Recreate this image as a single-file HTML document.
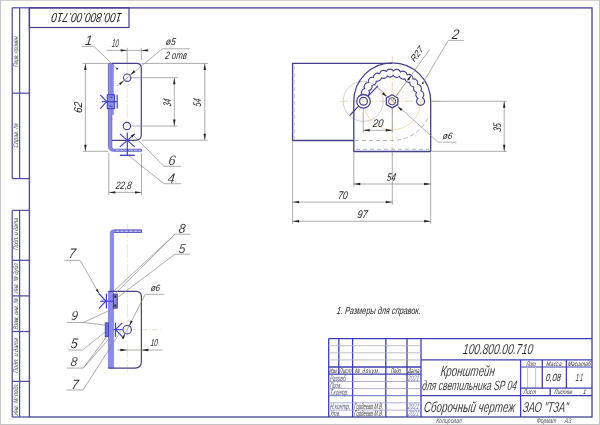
<!DOCTYPE html>
<html><head><meta charset="utf-8"><style>
html,body{margin:0;padding:0;background:#fff;overflow:hidden}
svg{display:block}
text{font-family:"Liberation Sans",sans-serif}
#t{opacity:0.995}
</style></head><body>
<svg width="600" height="425" viewBox="0 0 600 425">
<rect width="600" height="425" fill="#ffffff"/>
<rect x="0" y="0" width="600" height="1" fill="#cfcfcc"/>
<rect x="0" y="0" width="1" height="425" fill="#c4c4c4"/>
<rect x="599" y="0" width="1" height="425" fill="#c4c4c4"/>
<rect x="0" y="424" width="600" height="1" fill="#c4c4c4"/>
<rect x="29.4" y="7.9" width="562.6" height="409.1" fill="none" stroke="#524e9e" stroke-width="1.4"/>
<line x1="12.20" y1="7.80" x2="12.20" y2="178.60" stroke="#504ca4" stroke-width="1.25" stroke-linecap="butt"/>
<line x1="19.60" y1="7.80" x2="19.60" y2="178.60" stroke="#504ca4" stroke-width="1.25" stroke-linecap="butt"/>
<line x1="12.20" y1="210.40" x2="12.20" y2="417.00" stroke="#504ca4" stroke-width="1.25" stroke-linecap="butt"/>
<line x1="19.60" y1="210.40" x2="19.60" y2="417.00" stroke="#504ca4" stroke-width="1.25" stroke-linecap="butt"/>
<line x1="12.20" y1="7.80" x2="29.40" y2="7.80" stroke="#504ca4" stroke-width="1.25" stroke-linecap="butt"/>
<line x1="12.20" y1="93.20" x2="29.40" y2="93.20" stroke="#504ca4" stroke-width="1.25" stroke-linecap="butt"/>
<line x1="12.20" y1="178.60" x2="29.40" y2="178.60" stroke="#504ca4" stroke-width="1.25" stroke-linecap="butt"/>
<line x1="12.20" y1="210.40" x2="29.40" y2="210.40" stroke="#504ca4" stroke-width="1.25" stroke-linecap="butt"/>
<line x1="12.20" y1="260.30" x2="29.40" y2="260.30" stroke="#504ca4" stroke-width="1.25" stroke-linecap="butt"/>
<line x1="12.20" y1="295.90" x2="29.40" y2="295.90" stroke="#504ca4" stroke-width="1.25" stroke-linecap="butt"/>
<line x1="12.20" y1="331.50" x2="29.40" y2="331.50" stroke="#504ca4" stroke-width="1.25" stroke-linecap="butt"/>
<line x1="12.20" y1="381.40" x2="29.40" y2="381.40" stroke="#504ca4" stroke-width="1.25" stroke-linecap="butt"/>
<line x1="12.20" y1="417.00" x2="29.40" y2="417.00" stroke="#504ca4" stroke-width="1.25" stroke-linecap="butt"/>
<rect x="29.4" y="7.8" width="99.6" height="19.7" fill="none" stroke="#46408a" stroke-width="1.2"/>
<line x1="127.20" y1="64.00" x2="127.20" y2="131.00" stroke="#ece0c4" stroke-width="0.8" stroke-dasharray="14 2 2 2" stroke-linecap="butt"/>
<path d="M111.8,63.4 L136.70000000000002,63.4 Q141.3,63.4 141.3,68.0 L141.3,134.6 Q141.3,140.4 135.5,140.4 L111.8,140.4" fill="none" stroke="#46408a" stroke-width="1.2" stroke-linejoin="round" />
<path d="M108.4,63.4 L108.4,146.3 A5,5 0 0 0 113.4,151.3 L141.6,151.3 L141.6,149.2 L114.0,149.2 A2.2,2.2 0 0 1 111.8,147.0 L111.8,63.4 Z" fill="#8c8ce6" stroke="#5a5ac4" stroke-width="0.8" stroke-linejoin="round" />
<rect x="111.4" y="64" width="2.4" height="51" fill="#8c8ce6"/>
<line x1="116.00" y1="150.25" x2="140.50" y2="150.25" stroke="#ffffff" stroke-width="0.5" stroke-dasharray="3 1.5" stroke-linecap="butt"/>
<circle cx="127.20" cy="77.70" r="3.70" fill="none" stroke="#46408a" stroke-width="1.1"/>
<circle cx="126.90" cy="126.10" r="3.70" fill="none" stroke="#46408a" stroke-width="1.1"/>
<rect x="107.3" y="94.8" width="7.3" height="13.8" fill="#8c8ce6" stroke="#4242c2" stroke-width="1.1"/>
<line x1="109.50" y1="97.20" x2="112.60" y2="97.20" stroke="#4242c2" stroke-width="1.0" stroke-linecap="butt"/>
<line x1="109.50" y1="106.20" x2="112.60" y2="106.20" stroke="#4242c2" stroke-width="1.0" stroke-linecap="butt"/>
<line x1="117.20" y1="94.80" x2="117.20" y2="108.60" stroke="#4242c2" stroke-width="1.2" stroke-linecap="butt"/>
<line x1="101.80" y1="101.70" x2="117.20" y2="101.70" stroke="#4242c2" stroke-width="1.2" stroke-linecap="butt"/>
<line x1="100.30" y1="94.80" x2="106.70" y2="101.70" stroke="#4242c2" stroke-width="1.2" stroke-linecap="butt"/>
<line x1="100.30" y1="108.60" x2="106.70" y2="101.70" stroke="#4242c2" stroke-width="1.2" stroke-linecap="butt"/>
<line x1="127.30" y1="132.50" x2="127.30" y2="155.30" stroke="#4242c2" stroke-width="1.2" stroke-linecap="butt"/>
<line x1="119.90" y1="133.90" x2="134.70" y2="146.90" stroke="#4242c2" stroke-width="1.2" stroke-linecap="butt"/>
<line x1="134.70" y1="133.90" x2="119.90" y2="146.90" stroke="#4242c2" stroke-width="1.2" stroke-linecap="butt"/>
<line x1="119.90" y1="155.30" x2="134.70" y2="155.30" stroke="#4242c2" stroke-width="1.4" stroke-linecap="butt"/>
<line x1="127.20" y1="47.80" x2="127.20" y2="63.00" stroke="#8a8a8a" stroke-width="0.7" stroke-linecap="butt"/>
<line x1="141.30" y1="47.80" x2="141.30" y2="60.00" stroke="#8a8a8a" stroke-width="0.7" stroke-linecap="butt"/>
<line x1="106.80" y1="50.40" x2="149.00" y2="50.40" stroke="#8a8a8a" stroke-width="0.7" stroke-linecap="butt"/>
<polygon points="127.20,50.40 120.70,51.60 120.70,49.20" fill="#222"/>
<polygon points="141.30,50.40 147.80,49.20 147.80,51.60" fill="#222"/>
<line x1="82.60" y1="63.40" x2="108.00" y2="63.40" stroke="#8a8a8a" stroke-width="0.7" stroke-linecap="butt"/>
<line x1="82.60" y1="151.30" x2="108.00" y2="151.30" stroke="#8a8a8a" stroke-width="0.7" stroke-linecap="butt"/>
<line x1="85.40" y1="63.40" x2="85.40" y2="151.30" stroke="#8a8a8a" stroke-width="0.7" stroke-linecap="butt"/>
<polygon points="85.40,63.40 86.60,69.90 84.20,69.90" fill="#222"/>
<polygon points="85.40,151.30 84.20,144.80 86.60,144.80" fill="#222"/>
<line x1="131.00" y1="77.70" x2="177.90" y2="77.70" stroke="#8a8a8a" stroke-width="0.7" stroke-linecap="butt"/>
<line x1="131.00" y1="126.00" x2="177.50" y2="126.00" stroke="#8a8a8a" stroke-width="0.7" stroke-linecap="butt"/>
<line x1="174.30" y1="77.70" x2="174.30" y2="126.00" stroke="#8a8a8a" stroke-width="0.7" stroke-linecap="butt"/>
<polygon points="174.30,77.70 175.50,84.20 173.10,84.20" fill="#222"/>
<polygon points="174.30,126.00 173.10,119.50 175.50,119.50" fill="#222"/>
<line x1="141.30" y1="63.40" x2="208.00" y2="63.40" stroke="#8a8a8a" stroke-width="0.7" stroke-linecap="butt"/>
<line x1="142.00" y1="140.20" x2="207.50" y2="140.20" stroke="#8a8a8a" stroke-width="0.7" stroke-linecap="butt"/>
<line x1="204.80" y1="63.40" x2="204.80" y2="140.20" stroke="#8a8a8a" stroke-width="0.7" stroke-linecap="butt"/>
<polygon points="204.80,63.40 206.00,69.90 203.60,69.90" fill="#222"/>
<polygon points="204.80,140.20 203.60,133.70 206.00,133.70" fill="#222"/>
<line x1="108.80" y1="153.00" x2="108.80" y2="195.00" stroke="#8a8a8a" stroke-width="0.7" stroke-linecap="butt"/>
<line x1="141.50" y1="153.00" x2="141.50" y2="195.00" stroke="#8a8a8a" stroke-width="0.7" stroke-linecap="butt"/>
<line x1="108.80" y1="192.40" x2="141.50" y2="192.40" stroke="#8a8a8a" stroke-width="0.7" stroke-linecap="butt"/>
<polygon points="108.80,192.40 115.30,191.20 115.30,193.60" fill="#222"/>
<polygon points="141.50,192.40 135.00,193.60 135.00,191.20" fill="#222"/>
<line x1="81.90" y1="46.40" x2="93.90" y2="46.40" stroke="#8a8a8a" stroke-width="0.7" stroke-linecap="butt"/>
<line x1="93.90" y1="46.40" x2="117.10" y2="68.70" stroke="#8a8a8a" stroke-width="0.7" stroke-linecap="butt"/>
<circle cx="117.10" cy="68.70" r="0.90" fill="#222" stroke="#222" stroke-width="0"/>
<line x1="162.30" y1="48.80" x2="189.80" y2="48.80" stroke="#8a8a8a" stroke-width="0.7" stroke-linecap="butt"/>
<line x1="162.30" y1="48.80" x2="117.00" y2="86.20" stroke="#8a8a8a" stroke-width="0.7" stroke-linecap="butt"/>
<polygon points="130.40,74.80 133.84,70.34 135.38,72.18" fill="#222"/>
<polygon points="124.00,80.60 120.56,85.06 119.02,83.22" fill="#222"/>
<line x1="163.90" y1="166.30" x2="181.00" y2="166.30" stroke="#8a8a8a" stroke-width="0.7" stroke-linecap="butt"/>
<line x1="163.90" y1="166.30" x2="133.20" y2="135.00" stroke="#8a8a8a" stroke-width="0.7" stroke-linecap="butt"/>
<polygon points="135.00,133.60 132.41,137.47 130.83,135.67" fill="#222"/>
<line x1="164.00" y1="183.70" x2="181.20" y2="183.70" stroke="#8a8a8a" stroke-width="0.7" stroke-linecap="butt"/>
<line x1="164.00" y1="183.70" x2="128.50" y2="155.60" stroke="#8a8a8a" stroke-width="0.7" stroke-linecap="butt"/>
<line x1="340.00" y1="101.30" x2="445.00" y2="101.30" stroke="#e2d2a8" stroke-width="0.8" stroke-dasharray="8 2 1 2" stroke-linecap="butt"/>
<line x1="392.30" y1="56.00" x2="392.30" y2="155.00" stroke="#e2d2a8" stroke-width="0.8" stroke-dasharray="8 2 1 2" stroke-linecap="butt"/>
<circle cx="363.20" cy="101.30" r="20.00" fill="none" stroke="#b4b4b4" stroke-width="0.6"/>
<path d="M363.8,101.3 A28.5,28.5 0 0 0 420.8,101.3" fill="none" stroke="#e6d49c" stroke-width="0.8" stroke-linejoin="round" />
<line x1="392.30" y1="101.30" x2="423.30" y2="101.30" stroke="#f0e6d2" stroke-width="0.5" stroke-linecap="butt"/>
<line x1="392.30" y1="101.30" x2="422.44" y2="94.06" stroke="#f0e6d2" stroke-width="0.5" stroke-linecap="butt"/>
<line x1="392.30" y1="101.30" x2="419.92" y2="87.23" stroke="#f0e6d2" stroke-width="0.5" stroke-linecap="butt"/>
<line x1="392.30" y1="101.30" x2="415.87" y2="81.17" stroke="#f0e6d2" stroke-width="0.5" stroke-linecap="butt"/>
<line x1="392.30" y1="101.30" x2="410.52" y2="76.22" stroke="#f0e6d2" stroke-width="0.5" stroke-linecap="butt"/>
<line x1="392.30" y1="101.30" x2="404.16" y2="72.66" stroke="#f0e6d2" stroke-width="0.5" stroke-linecap="butt"/>
<line x1="392.30" y1="101.30" x2="397.15" y2="70.68" stroke="#f0e6d2" stroke-width="0.5" stroke-linecap="butt"/>
<line x1="392.30" y1="101.30" x2="389.87" y2="70.40" stroke="#f0e6d2" stroke-width="0.5" stroke-linecap="butt"/>
<line x1="392.30" y1="101.30" x2="382.72" y2="71.82" stroke="#f0e6d2" stroke-width="0.5" stroke-linecap="butt"/>
<line x1="392.30" y1="101.30" x2="376.10" y2="74.87" stroke="#f0e6d2" stroke-width="0.5" stroke-linecap="butt"/>
<line x1="392.30" y1="101.30" x2="370.38" y2="79.38" stroke="#f0e6d2" stroke-width="0.5" stroke-linecap="butt"/>
<line x1="392.30" y1="101.30" x2="365.87" y2="85.10" stroke="#f0e6d2" stroke-width="0.5" stroke-linecap="butt"/>
<line x1="392.30" y1="101.30" x2="362.82" y2="91.72" stroke="#f0e6d2" stroke-width="0.5" stroke-linecap="butt"/>
<path d="M353.8,140.5 L292.6,140.5 L292.6,63.4 L392.3,63.4" fill="none" stroke="#46408a" stroke-width="1.3" stroke-linejoin="round" />
<line x1="294.60" y1="66.00" x2="294.60" y2="139.00" stroke="#b4b4d8" stroke-width="0.7" stroke-dasharray="4 3" stroke-linecap="butt"/>
<path d="M392.3,62.9 A38.4,38.4 0 0 1 430.7,101.3 L430.7,151.5 L353.8,151.5 L353.8,101.3 A38.4,38.4 0 0 1 392.3,62.9" fill="none" stroke="#46408a" stroke-width="1.3" stroke-linejoin="round" />
<path d="M355,140.5 L392.3,140.5 A39.2,39.2 0 0 0 428.65,115.98" fill="none" stroke="#9a9aa8" stroke-width="0.8" stroke-dasharray="4 3" stroke-linejoin="round" />
<line x1="356.00" y1="149.30" x2="429.00" y2="149.30" stroke="#9a9ac0" stroke-width="0.8" stroke-dasharray="4 3" stroke-linecap="butt"/>
<line x1="349.60" y1="115.60" x2="378.00" y2="85.60" stroke="#46408a" stroke-width="1.3" stroke-linecap="butt"/>
<path d="M418.00,98.26 A4.0,4.0 0 1 0 422.42,97.74 A4.0,4.0 0 0 0 420.75,90.80 A4.0,4.0 0 0 0 417.51,84.45 A4.0,4.0 0 0 0 412.88,79.03 A4.0,4.0 0 0 0 407.12,74.84 A4.0,4.0 0 0 0 400.53,72.11 A4.0,4.0 0 0 0 393.49,71.00 A4.0,4.0 0 0 0 386.38,71.56 A4.0,4.0 0 0 0 379.60,73.76 A4.0,4.0 0 0 0 373.53,77.48 A4.0,4.0 0 0 0 368.48,82.53 A4.0,4.0 0 0 0 364.76,88.60 A4.0,4.0 0 1 0 368.80,90.46 A4.0,4.0 0 0 0 371.97,85.28 A4.0,4.0 0 0 0 376.28,80.97 A4.0,4.0 0 0 0 381.46,77.80 A4.0,4.0 0 0 0 387.25,75.92 A4.0,4.0 0 0 0 393.32,75.44 A4.0,4.0 0 0 0 399.33,76.39 A4.0,4.0 0 0 0 404.95,78.72 A4.0,4.0 0 0 0 409.87,82.29 A4.0,4.0 0 0 0 413.82,86.92 A4.0,4.0 0 0 0 416.58,92.34 A4.0,4.0 0 0 0 418.00,98.26 Z" fill="none" stroke="#46408a" stroke-width="1.1" stroke-linejoin="round" />
<circle cx="363.50" cy="101.30" r="6.80" fill="#ffffff" stroke="#46408a" stroke-width="1.3"/>
<circle cx="363.50" cy="101.30" r="3.90" fill="none" stroke="#46408a" stroke-width="1.2"/>
<polygon points="397.82,104.60 392.10,107.90 386.38,104.60 386.38,98.00 392.10,94.70 397.82,98.00" fill="#ffffff" stroke="#46408a" stroke-width="1.3" stroke-linejoin="round"/>
<circle cx="392.10" cy="101.30" r="3.60" fill="#fbeee0" stroke="#46408a" stroke-width="1.0"/>
<line x1="360.00" y1="101.30" x2="366.40" y2="101.30" stroke="#e2d2a8" stroke-width="0.6" stroke-linecap="butt"/>
<line x1="363.20" y1="98.00" x2="363.20" y2="104.60" stroke="#e2d2a8" stroke-width="0.6" stroke-linecap="butt"/>
<line x1="448.30" y1="40.40" x2="463.80" y2="40.40" stroke="#8a8a8a" stroke-width="0.7" stroke-linecap="butt"/>
<line x1="448.30" y1="40.40" x2="422.80" y2="83.20" stroke="#8a8a8a" stroke-width="0.7" stroke-linecap="butt"/>
<circle cx="422.80" cy="83.20" r="0.90" fill="#222" stroke="#222" stroke-width="0"/>
<line x1="392.30" y1="101.30" x2="429.60" y2="49.60" stroke="#8a8a8a" stroke-width="0.7" stroke-linecap="butt"/>
<polygon points="411.60,75.00 409.07,80.57 407.12,79.17" fill="#222"/>
<line x1="376.00" y1="86.00" x2="438.00" y2="142.20" stroke="#8a8a8a" stroke-width="0.7" stroke-linecap="butt"/>
<line x1="438.00" y1="142.20" x2="456.40" y2="142.20" stroke="#8a8a8a" stroke-width="0.7" stroke-linecap="butt"/>
<polygon points="386.80,96.90 381.92,94.09 383.53,92.32" fill="#222"/>
<polygon points="397.60,106.40 402.48,109.21 400.87,110.98" fill="#222"/>
<line x1="363.20" y1="108.00" x2="363.20" y2="133.00" stroke="#8a8a8a" stroke-width="0.7" stroke-linecap="butt"/>
<line x1="392.30" y1="108.00" x2="392.30" y2="133.00" stroke="#8a8a8a" stroke-width="0.7" stroke-linecap="butt"/>
<line x1="363.20" y1="130.30" x2="392.30" y2="130.30" stroke="#8a8a8a" stroke-width="0.7" stroke-linecap="butt"/>
<polygon points="363.20,130.30 369.70,129.10 369.70,131.50" fill="#222"/>
<polygon points="392.30,130.30 385.80,131.50 385.80,129.10" fill="#222"/>
<line x1="292.60" y1="141.50" x2="292.60" y2="224.00" stroke="#8a8a8a" stroke-width="0.7" stroke-linecap="butt"/>
<line x1="353.80" y1="152.50" x2="353.80" y2="186.70" stroke="#8a8a8a" stroke-width="0.7" stroke-linecap="butt"/>
<line x1="392.30" y1="152.50" x2="392.30" y2="204.80" stroke="#8a8a8a" stroke-width="0.7" stroke-linecap="butt"/>
<line x1="430.70" y1="152.50" x2="430.70" y2="224.00" stroke="#8a8a8a" stroke-width="0.7" stroke-linecap="butt"/>
<line x1="353.80" y1="184.00" x2="430.70" y2="184.00" stroke="#8a8a8a" stroke-width="0.7" stroke-linecap="butt"/>
<polygon points="353.80,184.00 360.30,182.80 360.30,185.20" fill="#222"/>
<polygon points="430.70,184.00 424.20,185.20 424.20,182.80" fill="#222"/>
<line x1="292.60" y1="202.10" x2="392.30" y2="202.10" stroke="#8a8a8a" stroke-width="0.7" stroke-linecap="butt"/>
<polygon points="292.60,202.10 299.10,200.90 299.10,203.30" fill="#222"/>
<polygon points="392.30,202.10 385.80,203.30 385.80,200.90" fill="#222"/>
<line x1="292.60" y1="221.30" x2="430.70" y2="221.30" stroke="#8a8a8a" stroke-width="0.7" stroke-linecap="butt"/>
<polygon points="292.60,221.30 299.10,220.10 299.10,222.50" fill="#222"/>
<polygon points="430.70,221.30 424.20,222.50 424.20,220.10" fill="#222"/>
<line x1="432.00" y1="101.30" x2="506.70" y2="101.30" stroke="#8a8a8a" stroke-width="0.7" stroke-linecap="butt"/>
<line x1="432.00" y1="151.30" x2="506.70" y2="151.30" stroke="#8a8a8a" stroke-width="0.7" stroke-linecap="butt"/>
<line x1="504.20" y1="101.30" x2="504.20" y2="151.30" stroke="#8a8a8a" stroke-width="0.7" stroke-linecap="butt"/>
<polygon points="504.20,101.30 505.40,107.80 503.00,107.80" fill="#222"/>
<polygon points="504.20,151.30 503.00,144.80 505.40,144.80" fill="#222"/>
<line x1="127.40" y1="224.00" x2="127.40" y2="372.50" stroke="#ece2cc" stroke-width="0.8" stroke-dasharray="14 2 2 2" stroke-linecap="butt"/>
<line x1="119.00" y1="329.70" x2="162.00" y2="329.70" stroke="#d8d0c0" stroke-width="0.7" stroke-dasharray="6 2 1 2" stroke-linecap="butt"/>
<rect x="107.9" y="291.3" width="2.4" height="76.8" fill="#8c8ce6"/>
<path d="M110.2,368.1 L110.2,233.0 Q110.2,229.9 113.3,229.9 L141.6,229.9 L141.6,232.5 L113.6,232.5 L113.6,368.1 Z" fill="#8c8ce6" stroke="#6e6ed4" stroke-width="0.6" stroke-linejoin="round" />
<rect x="108.3" y="292" width="5" height="75.6" fill="#8c8ce6"/>
<line x1="114.00" y1="230.00" x2="141.60" y2="230.00" stroke="#4a4ab8" stroke-width="0.8" stroke-linecap="butt"/>
<line x1="114.00" y1="232.40" x2="141.60" y2="232.40" stroke="#4a4ab8" stroke-width="0.8" stroke-linecap="butt"/>
<line x1="141.40" y1="230.00" x2="141.40" y2="232.40" stroke="#4a4ab8" stroke-width="0.8" stroke-linecap="butt"/>
<line x1="116.00" y1="231.20" x2="140.50" y2="231.20" stroke="#ffffff" stroke-width="0.7" stroke-dasharray="3 1.5" stroke-linecap="butt"/>
<path d="M108.2,291.3 L136.0,291.3 Q141.4,291.3 141.4,296.7 L141.4,361.6 Q141.4,368.1 134.9,368.1 L108.2,368.1" fill="none" stroke="#46408a" stroke-width="1.2" stroke-linejoin="round" />
<circle cx="127.20" cy="329.70" r="4.20" fill="none" stroke="#46408a" stroke-width="1.1"/>
<rect x="113.4" y="294.2" width="3.8" height="13.9" fill="#8c8ce6" stroke="#46408a" stroke-width="1.1"/>
<rect x="114.4" y="295.5" width="1.8" height="2.2" fill="#222"/>
<rect x="114.4" y="304.5" width="1.8" height="2.2" fill="#222"/>
<line x1="98.80" y1="293.50" x2="105.90" y2="301.20" stroke="#4242c2" stroke-width="1.2" stroke-linecap="butt"/>
<line x1="98.80" y1="308.60" x2="105.90" y2="301.20" stroke="#4242c2" stroke-width="1.2" stroke-linecap="butt"/>
<line x1="100.20" y1="301.20" x2="113.40" y2="301.20" stroke="#4242c2" stroke-width="1.2" stroke-linecap="butt"/>
<line x1="106.40" y1="293.50" x2="106.40" y2="308.60" stroke="#4242c2" stroke-width="1.2" stroke-linecap="butt"/>
<rect x="105.3" y="322.9" width="3.2" height="13.6" fill="#8c8ce6" stroke="#4242c2" stroke-width="1.0"/>
<line x1="106.90" y1="323.00" x2="106.90" y2="336.40" stroke="#4242c2" stroke-width="0.8" stroke-linecap="butt"/>
<line x1="115.50" y1="322.60" x2="115.50" y2="336.80" stroke="#4242c2" stroke-width="1.2" stroke-linecap="butt"/>
<line x1="113.60" y1="329.70" x2="122.50" y2="329.70" stroke="#4242c2" stroke-width="1.2" stroke-linecap="butt"/>
<line x1="115.50" y1="329.70" x2="122.30" y2="322.80" stroke="#4242c2" stroke-width="1.2" stroke-linecap="butt"/>
<line x1="115.50" y1="329.70" x2="122.30" y2="336.60" stroke="#4242c2" stroke-width="1.2" stroke-linecap="butt"/>
<line x1="145.30" y1="294.30" x2="164.30" y2="294.30" stroke="#8a8a8a" stroke-width="0.7" stroke-linecap="butt"/>
<line x1="145.30" y1="294.30" x2="122.40" y2="339.00" stroke="#8a8a8a" stroke-width="0.7" stroke-linecap="butt"/>
<polygon points="129.20,325.90 130.64,320.46 132.77,321.55" fill="#222"/>
<polygon points="125.20,333.50 123.76,338.94 121.63,337.85" fill="#222"/>
<line x1="117.60" y1="350.00" x2="162.70" y2="350.00" stroke="#8a8a8a" stroke-width="0.7" stroke-linecap="butt"/>
<polygon points="127.40,350.00 120.40,351.20 120.40,348.80" fill="#222"/>
<polygon points="141.40,350.00 148.40,348.80 148.40,351.20" fill="#222"/>
<line x1="64.20" y1="260.40" x2="80.10" y2="260.40" stroke="#8a8a8a" stroke-width="0.7" stroke-linecap="butt"/>
<line x1="80.10" y1="260.40" x2="99.00" y2="293.30" stroke="#8a8a8a" stroke-width="0.7" stroke-linecap="butt"/>
<polygon points="99.00,293.40 95.72,290.10 97.80,288.90" fill="#222"/>
<line x1="67.00" y1="322.50" x2="83.20" y2="322.50" stroke="#8a8a8a" stroke-width="0.7" stroke-linecap="butt"/>
<line x1="83.20" y1="322.50" x2="109.40" y2="310.50" stroke="#8a8a8a" stroke-width="0.7" stroke-linecap="butt"/>
<line x1="83.20" y1="322.50" x2="105.60" y2="325.20" stroke="#8a8a8a" stroke-width="0.7" stroke-linecap="butt"/>
<line x1="67.70" y1="350.00" x2="82.50" y2="350.00" stroke="#8a8a8a" stroke-width="0.7" stroke-linecap="butt"/>
<line x1="82.50" y1="350.00" x2="105.10" y2="332.00" stroke="#8a8a8a" stroke-width="0.7" stroke-linecap="butt"/>
<line x1="67.00" y1="368.10" x2="83.20" y2="368.10" stroke="#8a8a8a" stroke-width="0.7" stroke-linecap="butt"/>
<line x1="83.20" y1="368.10" x2="107.30" y2="335.80" stroke="#8a8a8a" stroke-width="0.7" stroke-linecap="butt"/>
<line x1="83.20" y1="368.10" x2="109.60" y2="338.00" stroke="#8a8a8a" stroke-width="0.7" stroke-linecap="butt"/>
<line x1="66.30" y1="390.00" x2="83.00" y2="390.00" stroke="#8a8a8a" stroke-width="0.7" stroke-linecap="butt"/>
<line x1="83.00" y1="390.00" x2="120.60" y2="331.50" stroke="#8a8a8a" stroke-width="0.7" stroke-linecap="butt"/>
<line x1="175.00" y1="234.20" x2="190.30" y2="234.20" stroke="#8a8a8a" stroke-width="0.7" stroke-linecap="butt"/>
<line x1="175.00" y1="234.20" x2="114.20" y2="290.80" stroke="#8a8a8a" stroke-width="0.7" stroke-linecap="butt"/>
<line x1="175.00" y1="234.20" x2="115.80" y2="293.00" stroke="#8a8a8a" stroke-width="0.7" stroke-linecap="butt"/>
<line x1="175.00" y1="254.20" x2="190.30" y2="254.20" stroke="#8a8a8a" stroke-width="0.7" stroke-linecap="butt"/>
<line x1="175.00" y1="254.20" x2="117.20" y2="297.80" stroke="#8a8a8a" stroke-width="0.7" stroke-linecap="butt"/>
<line x1="328.70" y1="338.60" x2="328.70" y2="417.00" stroke="#3e3cb0" stroke-width="1.3" stroke-linecap="butt"/>
<line x1="338.80" y1="338.60" x2="338.80" y2="374.20" stroke="#3e3cb0" stroke-width="1.3" stroke-linecap="butt"/>
<line x1="352.60" y1="338.60" x2="352.60" y2="417.00" stroke="#3e3cb0" stroke-width="1.3" stroke-linecap="butt"/>
<line x1="385.80" y1="338.60" x2="385.80" y2="417.00" stroke="#3e3cb0" stroke-width="1.3" stroke-linecap="butt"/>
<line x1="407.00" y1="338.60" x2="407.00" y2="417.00" stroke="#3e3cb0" stroke-width="1.3" stroke-linecap="butt"/>
<line x1="421.00" y1="338.60" x2="421.00" y2="417.00" stroke="#3e3cb0" stroke-width="1.3" stroke-linecap="butt"/>
<line x1="328.70" y1="338.60" x2="592.00" y2="338.60" stroke="#3e3cb0" stroke-width="1.3" stroke-linecap="butt"/>
<line x1="328.70" y1="345.70" x2="421.00" y2="345.70" stroke="#b0b0b4" stroke-width="0.8" stroke-linecap="butt"/>
<line x1="328.70" y1="352.80" x2="421.00" y2="352.80" stroke="#b0b0b4" stroke-width="0.8" stroke-linecap="butt"/>
<line x1="328.70" y1="359.90" x2="421.00" y2="359.90" stroke="#b0b0b4" stroke-width="0.8" stroke-linecap="butt"/>
<line x1="328.70" y1="367.00" x2="421.00" y2="367.00" stroke="#3e3cb0" stroke-width="1.3" stroke-linecap="butt"/>
<line x1="328.70" y1="374.20" x2="421.00" y2="374.20" stroke="#3e3cb0" stroke-width="1.3" stroke-linecap="butt"/>
<line x1="328.70" y1="381.50" x2="421.00" y2="381.50" stroke="#9a9ac8" stroke-width="0.8" stroke-linecap="butt"/>
<line x1="328.70" y1="388.60" x2="421.00" y2="388.60" stroke="#9a9ac8" stroke-width="0.8" stroke-linecap="butt"/>
<line x1="328.70" y1="402.80" x2="421.00" y2="402.80" stroke="#9a9ac8" stroke-width="0.8" stroke-linecap="butt"/>
<line x1="328.70" y1="410.10" x2="421.00" y2="410.10" stroke="#9a9ac8" stroke-width="0.8" stroke-linecap="butt"/>
<line x1="328.70" y1="395.70" x2="421.00" y2="395.70" stroke="#6a6ab8" stroke-width="1.0" stroke-linecap="butt"/>
<line x1="421.00" y1="359.90" x2="592.00" y2="359.90" stroke="#3e3cb0" stroke-width="1.3" stroke-linecap="butt"/>
<line x1="520.60" y1="359.90" x2="520.60" y2="417.00" stroke="#3e3cb0" stroke-width="1.3" stroke-linecap="butt"/>
<line x1="520.60" y1="367.00" x2="592.00" y2="367.00" stroke="#3e3cb0" stroke-width="1.0" stroke-linecap="butt"/>
<line x1="542.30" y1="359.90" x2="542.30" y2="388.20" stroke="#3e3cb0" stroke-width="1.3" stroke-linecap="butt"/>
<line x1="566.40" y1="359.90" x2="566.40" y2="388.20" stroke="#3e3cb0" stroke-width="1.3" stroke-linecap="butt"/>
<line x1="527.60" y1="367.00" x2="527.60" y2="388.20" stroke="#c4c4c4" stroke-width="1.0" stroke-linecap="butt"/>
<line x1="535.60" y1="367.00" x2="535.60" y2="388.20" stroke="#c4c4c4" stroke-width="1.0" stroke-linecap="butt"/>
<line x1="520.60" y1="388.20" x2="592.00" y2="388.20" stroke="#3e3cb0" stroke-width="1.3" stroke-linecap="butt"/>
<line x1="550.20" y1="388.20" x2="550.20" y2="395.70" stroke="#3e3cb0" stroke-width="1.3" stroke-linecap="butt"/>
<line x1="421.00" y1="395.70" x2="592.00" y2="395.70" stroke="#3e3cb0" stroke-width="1.3" stroke-linecap="butt"/>
<g id="t"><text transform="translate(18.20 67.27) rotate(-90) skewX(-7)" x="0" y="0" font-size="6.51" font-style="italic" fill="#444" textLength="32.00" lengthAdjust="spacingAndGlyphs">Перв. примен.</text>
<text transform="translate(18.20 147.77) rotate(-90) skewX(-7)" x="0" y="0" font-size="6.51" font-style="italic" fill="#444" textLength="24.50" lengthAdjust="spacingAndGlyphs">Справ. №</text>
<text transform="translate(18.20 250.27) rotate(-90) skewX(-7)" x="0" y="0" font-size="6.51" font-style="italic" fill="#444" textLength="32.00" lengthAdjust="spacingAndGlyphs">Подп. и дата</text>
<text transform="translate(18.20 293.77) rotate(-90) skewX(-7)" x="0" y="0" font-size="6.51" font-style="italic" fill="#444" textLength="31.50" lengthAdjust="spacingAndGlyphs">Инв. № дубл.</text>
<text transform="translate(18.20 329.77) rotate(-90) skewX(-7)" x="0" y="0" font-size="6.51" font-style="italic" fill="#444" textLength="31.50" lengthAdjust="spacingAndGlyphs">Взам. инв. №</text>
<text transform="translate(18.20 373.27) rotate(-90) skewX(-7)" x="0" y="0" font-size="6.51" font-style="italic" fill="#444" textLength="35.00" lengthAdjust="spacingAndGlyphs">Подп. и дата</text>
<text transform="translate(18.20 415.77) rotate(-90) skewX(-7)" x="0" y="0" font-size="6.51" font-style="italic" fill="#444" textLength="32.50" lengthAdjust="spacingAndGlyphs">Инв. № подл.</text>
<g transform="rotate(180 86.7 17.5)"><text transform="translate(51.2 22) skewX(-7)" x="0" y="0" font-size="13.2" font-style="italic" fill="#222222" textLength="70" lengthAdjust="spacingAndGlyphs">100.800.00.710</text></g>
<text transform="translate(111.51 46.50) skewX(-7)" x="0" y="0" font-size="11.13" font-style="italic" font-weight="normal" fill="#222222" textLength="6.90" lengthAdjust="spacingAndGlyphs">10</text>
<text transform="translate(82.10 113.18) rotate(-90) skewX(-7)" x="0" y="0" font-size="11.34" font-style="italic" fill="#222222" textLength="10.90" lengthAdjust="spacingAndGlyphs">62</text>
<text transform="translate(170.70 106.77) rotate(-90) skewX(-7)" x="0" y="0" font-size="11.13" font-style="italic" fill="#222222" textLength="7.50" lengthAdjust="spacingAndGlyphs">34</text>
<text transform="translate(201.40 106.67) rotate(-90) skewX(-7)" x="0" y="0" font-size="11.13" font-style="italic" fill="#222222" textLength="7.70" lengthAdjust="spacingAndGlyphs">54</text>
<text transform="translate(115.52 188.80) skewX(-7)" x="0" y="0" font-size="10.92" font-style="italic" font-weight="normal" fill="#222222" textLength="15.80" lengthAdjust="spacingAndGlyphs">22,8</text>
<text transform="translate(88.39 44.90) skewX(-7) scale(0.92 1)" x="0" y="0" font-size="13.8" font-style="italic" fill="#222222" stroke="#fff" stroke-width="0.1" text-anchor="middle">1</text>
<text transform="translate(165.56 44.90) skewX(-7)" x="0" y="0" font-size="10.08" font-style="italic" font-weight="normal" fill="#222222" textLength="9.80" lengthAdjust="spacingAndGlyphs">ø5</text>
<text transform="translate(165.12 58.70) skewX(-7)" x="0" y="0" font-size="10.92" font-style="italic" font-weight="normal" fill="#222222" textLength="21.40" lengthAdjust="spacingAndGlyphs">2 отв</text>
<text transform="translate(171.49 165.10) skewX(-7) scale(0.92 1)" x="0" y="0" font-size="13.8" font-style="italic" fill="#222222" stroke="#fff" stroke-width="0.1" text-anchor="middle">6</text>
<text transform="translate(170.89 182.50) skewX(-7) scale(0.92 1)" x="0" y="0" font-size="13.8" font-style="italic" fill="#222222" stroke="#fff" stroke-width="0.1" text-anchor="middle">4</text>
<text transform="translate(454.98 39.30) skewX(-7) scale(0.92 1)" x="0" y="0" font-size="14.0" font-style="italic" fill="#222222" stroke="#fff" stroke-width="0.1" text-anchor="middle">2</text>
<g transform="translate(414.6 62.6) rotate(-54.3)"><text transform="skewX(-7)" x="0" y="0" font-size="9.0" font-style="italic" fill="#222222" textLength="16" lengthAdjust="spacingAndGlyphs">R27</text></g>
<text transform="translate(442.39 138.80) skewX(-7) scale(0.88 1)" x="0" y="0" font-size="9.24" font-style="italic" font-weight="normal" fill="#222222" textLength="10.91" lengthAdjust="spacing">ø6</text>
<text transform="translate(372.51 127.30) skewX(-7)" x="0" y="0" font-size="11.13" font-style="italic" font-weight="normal" fill="#222222" textLength="10.40" lengthAdjust="spacingAndGlyphs">20</text>
<text transform="translate(386.41 180.90) skewX(-7)" x="0" y="0" font-size="11.13" font-style="italic" font-weight="normal" fill="#222222" textLength="9.00" lengthAdjust="spacingAndGlyphs">54</text>
<text transform="translate(337.71 199.30) skewX(-7)" x="0" y="0" font-size="11.13" font-style="italic" font-weight="normal" fill="#222222" textLength="9.60" lengthAdjust="spacingAndGlyphs">70</text>
<text transform="translate(356.91 218.20) skewX(-7)" x="0" y="0" font-size="11.13" font-style="italic" font-weight="normal" fill="#222222" textLength="10.40" lengthAdjust="spacingAndGlyphs">97</text>
<text transform="translate(500.70 131.97) rotate(-90) skewX(-7)" x="0" y="0" font-size="11.13" font-style="italic" fill="#222222" textLength="8.60" lengthAdjust="spacingAndGlyphs">35</text>
<text transform="translate(150.39 290.60) skewX(-7)" x="0" y="0" font-size="9.24" font-style="italic" font-weight="normal" fill="#222222" textLength="9.40" lengthAdjust="spacingAndGlyphs">ø6</text>
<text transform="translate(150.17 346.30) skewX(-7)" x="0" y="0" font-size="9.87" font-style="italic" font-weight="normal" fill="#222222" textLength="7.40" lengthAdjust="spacingAndGlyphs">10</text>
<text transform="translate(71.69 258.30) skewX(-7) scale(0.92 1)" x="0" y="0" font-size="13.8" font-style="italic" fill="#222222" stroke="#fff" stroke-width="0.1" text-anchor="middle">7</text>
<text transform="translate(74.03 320.40) skewX(-7) scale(0.92 1)" x="0" y="0" font-size="13.0" font-style="italic" fill="#222222" stroke="#fff" stroke-width="0.1" text-anchor="middle">9</text>
<text transform="translate(73.79 348.40) skewX(-7) scale(0.92 1)" x="0" y="0" font-size="13.8" font-style="italic" fill="#222222" stroke="#fff" stroke-width="0.1" text-anchor="middle">5</text>
<text transform="translate(73.44 366.40) skewX(-7) scale(0.92 1)" x="0" y="0" font-size="12.8" font-style="italic" fill="#222222" stroke="#fff" stroke-width="0.1" text-anchor="middle">8</text>
<text transform="translate(74.61 388.70) skewX(-7) scale(0.92 1)" x="0" y="0" font-size="13.4" font-style="italic" fill="#222222" stroke="#fff" stroke-width="0.1" text-anchor="middle">7</text>
<text transform="translate(181.62 232.60) skewX(-7) scale(0.92 1)" x="0" y="0" font-size="13.2" font-style="italic" fill="#222222" stroke="#fff" stroke-width="0.1" text-anchor="middle">8</text>
<text transform="translate(181.72 252.60) skewX(-7) scale(0.92 1)" x="0" y="0" font-size="13.2" font-style="italic" fill="#222222" stroke="#fff" stroke-width="0.1" text-anchor="middle">5</text>
<text transform="translate(336.55 314.40) skewX(-7)" x="0" y="0" font-size="10.29" font-style="italic" font-weight="normal" fill="#222222" textLength="84.00" lengthAdjust="spacingAndGlyphs">1. Размеры для справок.</text>
<text transform="translate(462.56 354.20) skewX(-7)" x="0" y="0" font-size="14.49" font-style="italic" font-weight="normal" fill="#222222" stroke="#fff" stroke-width="0.1" textLength="70.10" lengthAdjust="spacingAndGlyphs">100.800.00.710</text>
<text transform="translate(440.14 376.40) skewX(-7)" x="0" y="0" font-size="14.91" font-style="italic" font-weight="normal" fill="#222222" stroke="#fff" stroke-width="0.1" textLength="54.20" lengthAdjust="spacingAndGlyphs">Кронштейн</text>
<text transform="translate(421.81 390.00) skewX(-7)" x="0" y="0" font-size="13.44" font-style="italic" font-weight="normal" fill="#222222" stroke="#fff" stroke-width="0.1" textLength="94.60" lengthAdjust="spacingAndGlyphs">для светильника SP 04</text>
<text transform="translate(423.45 411.60) skewX(-7)" x="0" y="0" font-size="14.7" font-style="italic" font-weight="normal" fill="#222222" stroke="#fff" stroke-width="0.1" textLength="91.10" lengthAdjust="spacingAndGlyphs">Сборочный чертеж</text>
<text transform="translate(522.58 411.50) skewX(-7)" x="0" y="0" font-size="14.18" font-style="italic" font-weight="normal" fill="#222222" stroke="#fff" stroke-width="0.1" textLength="45.50" lengthAdjust="spacingAndGlyphs">ЗАО "ТЗА"</text>
<text transform="translate(545.54 381.40) skewX(-7)" x="0" y="0" font-size="10.5" font-style="italic" font-weight="normal" fill="#222222" textLength="14.90" lengthAdjust="spacingAndGlyphs">0,08</text>
<text transform="translate(575.44 381.40) skewX(-7)" x="0" y="0" font-size="10.5" font-style="italic" font-weight="normal" fill="#222222" textLength="7.10" lengthAdjust="spacingAndGlyphs">1:1</text>
<text transform="translate(526.21 366.00) skewX(-7)" x="0" y="0" font-size="6.51" font-style="italic" font-weight="normal" fill="#222222" textLength="10.40" lengthAdjust="spacingAndGlyphs">Лит.</text>
<text transform="translate(546.31 366.00) skewX(-7) scale(0.72 1)" x="0" y="0" font-size="6.51" font-style="italic" font-weight="normal" fill="#222222" textLength="20.83" lengthAdjust="spacing">Масса</text>
<text transform="translate(567.71 366.00) skewX(-7) scale(0.72 1)" x="0" y="0" font-size="6.51" font-style="italic" font-weight="normal" fill="#222222" textLength="31.67" lengthAdjust="spacing">Масштаб</text>
<text transform="translate(523.61 394.30) skewX(-7) scale(0.72 1)" x="0" y="0" font-size="6.51" font-style="italic" font-weight="normal" fill="#222222" textLength="17.08" lengthAdjust="spacing">Лист</text>
<text transform="translate(554.11 394.30) skewX(-7) scale(0.72 1)" x="0" y="0" font-size="6.51" font-style="italic" font-weight="normal" fill="#222222" textLength="24.44" lengthAdjust="spacing">Листов</text>
<text transform="translate(582.71 394.30) skewX(-7) scale(0.88 1)" x="0" y="0" font-size="6.51" font-style="italic" font-weight="normal" fill="#222222">1</text>
<text transform="translate(329.31 373.20) skewX(-7)" x="0" y="0" font-size="6.51" font-style="italic" font-weight="normal" fill="#222222" textLength="8.20" lengthAdjust="spacingAndGlyphs">Изм.</text>
<text transform="translate(339.31 373.20) skewX(-7)" x="0" y="0" font-size="6.51" font-style="italic" font-weight="normal" fill="#222222" textLength="12.00" lengthAdjust="spacingAndGlyphs">Лист</text>
<text transform="translate(354.71 373.20) skewX(-7) scale(0.72 1)" x="0" y="0" font-size="6.51" font-style="italic" font-weight="normal" fill="#222222" textLength="34.72" lengthAdjust="spacing">№ докум.</text>
<text transform="translate(390.71 373.20) skewX(-7)" x="0" y="0" font-size="6.51" font-style="italic" font-weight="normal" fill="#222222" textLength="11.00" lengthAdjust="spacingAndGlyphs">Подп.</text>
<text transform="translate(407.71 373.20) skewX(-7)" x="0" y="0" font-size="6.51" font-style="italic" font-weight="normal" fill="#222222" textLength="11.60" lengthAdjust="spacingAndGlyphs">Дата</text>
<text transform="translate(329.65 380.80) skewX(-7)" x="0" y="0" font-size="7.98" font-style="italic" font-weight="normal" fill="#505070" textLength="17.00" lengthAdjust="spacingAndGlyphs">Разраб.</text>
<text transform="translate(329.65 388.00) skewX(-7)" x="0" y="0" font-size="7.98" font-style="italic" font-weight="normal" fill="#505070" textLength="11.50" lengthAdjust="spacingAndGlyphs">Пров.</text>
<text transform="translate(329.65 395.00) skewX(-7)" x="0" y="0" font-size="7.98" font-style="italic" font-weight="normal" fill="#505070" textLength="18.50" lengthAdjust="spacingAndGlyphs">Т.контр.</text>
<text transform="translate(329.65 409.40) skewX(-7)" x="0" y="0" font-size="7.98" font-style="italic" font-weight="normal" fill="#505070" textLength="20.50" lengthAdjust="spacingAndGlyphs">Н.контр.</text>
<text transform="translate(329.65 416.40) skewX(-7)" x="0" y="0" font-size="7.98" font-style="italic" font-weight="normal" fill="#505070" textLength="10.50" lengthAdjust="spacingAndGlyphs">Утв.</text>
<text transform="translate(353.85 409.40) skewX(-7)" x="0" y="0" font-size="7.98" font-style="italic" font-weight="normal" fill="#404040" textLength="29.10" lengthAdjust="spacingAndGlyphs">Гордеева М.В.</text>
<text transform="translate(353.85 416.40) skewX(-7)" x="0" y="0" font-size="7.98" font-style="italic" font-weight="normal" fill="#404040" textLength="29.10" lengthAdjust="spacingAndGlyphs">Гордеева М.В.</text>
<text transform="translate(407.45 380.80) skewX(-7)" x="0" y="0" font-size="7.98" font-style="italic" font-weight="normal" fill="#7070a8" textLength="11.40" lengthAdjust="spacingAndGlyphs">2021</text>
<text transform="translate(407.45 409.40) skewX(-7)" x="0" y="0" font-size="7.98" font-style="italic" font-weight="normal" fill="#7070a8" textLength="11.40" lengthAdjust="spacingAndGlyphs">2021</text>
<text transform="translate(407.45 416.40) skewX(-7)" x="0" y="0" font-size="7.98" font-style="italic" font-weight="normal" fill="#7070a8" textLength="11.40" lengthAdjust="spacingAndGlyphs">2021</text>
<text transform="translate(436.10 423.40) skewX(-7) scale(0.72 1)" x="0" y="0" font-size="6.93" font-style="italic" font-weight="normal" fill="#505050" textLength="35.28" lengthAdjust="spacing">Копировал</text>
<text transform="translate(536.60 423.20) skewX(-7)" x="0" y="0" font-size="6.93" font-style="italic" font-weight="normal" fill="#505050" textLength="19.50" lengthAdjust="spacingAndGlyphs">Формат</text>
<text transform="translate(564.50 423.20) skewX(-7) scale(0.72 1)" x="0" y="0" font-size="6.93" font-style="italic" font-weight="normal" fill="#505050" textLength="9.03" lengthAdjust="spacing">A3</text></g>
</svg>
</body></html>
